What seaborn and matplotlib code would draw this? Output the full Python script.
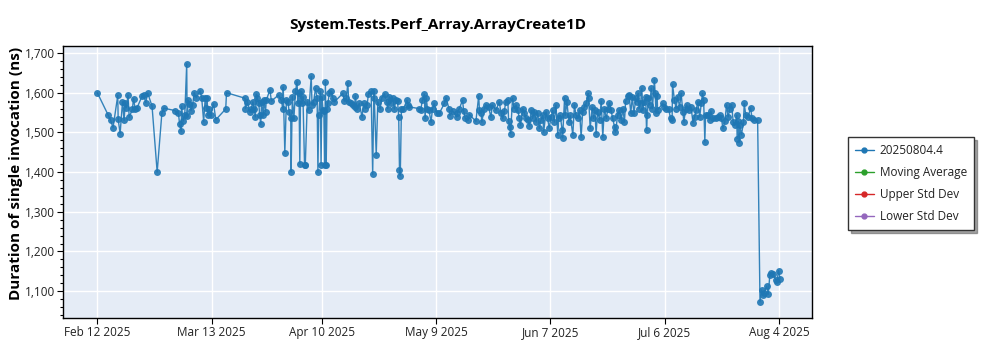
import matplotlib
matplotlib.use("Agg")
import matplotlib.pyplot as plt
import matplotlib.dates as mdates
from matplotlib.lines import Line2D
from matplotlib.ticker import MultipleLocator, FuncFormatter
import seaborn as sns
import pandas as pd

# ---- data (days since 2025-02-12, duration ns) ----
series_name = "20250804.4"
legend_labels = ["20250804.4", "Moving Average", "Upper Std Dev", "Lower Std Dev"]

days = [
    0, 2.8, 3.4, 4.0, 5.2, 5.3, 5.8, 6.4, 6.8, 7.1, 7.4, 7.8, 8.1, 8.9, 9.2, 9.6, 10.1,
    11.4, 11.8, 12.3, 12.8, 13.9, 15.2, 16.4, 16.9, 19.7, 20.6, 20.9, 21.3, 21.4, 21.8,
    22.2, 22.7, 22.8, 23.1, 23.3, 23.8, 24.2, 24.6, 25.1, 26.1, 26.5, 27.0, 27.4, 27.7,
    27.9, 28.0, 28.4, 28.8, 29.5, 30.1, 32.6, 32.8, 37.5, 37.6, 38.1,
    38.7, 39.1, 39.5, 39.8, 40.1, 40.4, 40.6, 41.0, 41.2, 41.5, 41.7, 42.1, 42.3, 42.7,
    42.9, 43.8, 44.2, 46.0, 46.7, 47.1, 47.2, 47.6, 48.0, 48.4, 48.7, 49.1, 49.2, 49.5,
    49.9, 50.3, 50.7, 50.9, 51.2, 51.4, 51.6, 51.9, 52.2, 52.6, 52.8, 53.3, 53.7, 54.3,
    54.5, 54.9, 55.4, 55.8, 56.0, 56.2, 56.6, 56.8, 57.0, 57.3, 57.5, 57.7, 57.9, 58.1,
    58.3, 58.5, 58.9, 59.4, 59.8, 60.2, 62.3, 62.7, 63.2, 63.6, 63.8, 64.3, 64.8, 65.3,
    65.5, 65.9, 66.5, 67.2, 67.6, 68.0, 68.5, 68.8, 69.5, 69.9, 70.2, 70.3, 70.8, 71.2,
    71.8, 72.2, 72.9, 73.5, 73.7, 74.1, 74.5, 75.0, 75.4, 75.8, 76.2, 76.5, 76.7, 76.9,
    77.2, 77.7, 78.6, 78.9, 79.2, 81.7, 82.1, 82.5, 83.0, 83.2, 83.5, 83.8, 84.2, 84.7,
    85.1, 85.5, 86.2,
    86.8, 88.1, 88.5, 89.3, 89.5, 90.2, 91.2, 91.4, 91.9, 92.7, 93.0, 93.4, 94.2, 94.4,
    96.1, 96.8, 97.0, 97.4, 97.6, 98.2, 98.6, 99.3, 99.9, 100.3, 101.2, 102.0, 102.5,
    102.9, 103.3, 103.7, 104.2, 104.4, 104.7, 104.9, 105.4, 105.8, 106.3, 106.7, 107.1,
    107.4, 108.0, 108.4, 108.8, 109.2, 109.7, 110.1, 110.5, 110.9, 111.4, 111.8, 112.2,
    112.6, 113.1, 113.3, 113.9, 114.3, 114.7, 115.2, 115.6, 116.0, 116.4, 116.9, 117.1,
    117.5, 118.0, 118.1, 118.6, 118.8, 119.2, 119.7, 120.0, 120.7, 121.1, 121.5, 122.0,
    122.4, 122.8, 123.2, 123.6, 124.1, 124.6, 124.7, 125.1, 125.6, 125.9, 126.3, 126.6,
    127.0, 127.5, 127.9, 128.3, 128.7, 129.2, 129.6, 130.0, 130.4, 130.8, 131.3, 131.5,
    132.1, 132.5, 133.0, 133.4, 133.8, 134.1, 134.7,
    135.0, 135.4, 135.8, 136.2, 136.7, 137.1, 137.3, 137.5, 137.9, 138.2, 138.5, 138.8,
    139.2, 139.4, 139.6, 139.9, 140.2, 140.6, 140.9, 141.4, 141.6, 141.8, 142.1, 142.2,
    143.5, 143.9, 144.3, 145.0, 145.5, 145.9, 146.0, 146.5, 146.9, 147.3, 147.8, 148.2,
    148.6, 148.9, 149.3, 149.6, 150.1, 150.7, 151.2, 151.6, 152.0, 152.4, 152.9, 153.3,
    153.6, 153.9, 154.2, 154.4, 155.0, 155.4, 155.7, 156.3, 157.0, 157.6, 158.0, 158.4,
    158.8, 159.3, 159.7, 160.1, 160.6, 161.0, 161.4, 161.8, 162.3, 162.4, 162.7, 162.9,
    163.1, 163.5, 164.0, 164.2, 164.6, 165.2, 165.8, 166.2, 166.7, 167.6,
    168.2, 168.6, 168.9, 169.2, 169.9, 170.3, 170.7, 171.1, 171.6, 172.2, 172.5, 172.9, 173.3,
]

values = [
    1600, 1543, 1530, 1512, 1593, 1533, 1497, 1577, 1530, 1573, 1562, 1594, 1538, 1558, 1585, 1560, 1562,
    1592, 1593, 1575, 1599, 1566, 1400, 1549, 1561, 1555, 1548, 1520, 1503, 1566, 1528,
    1543, 1673, 1542, 1581, 1572, 1555, 1569, 1600, 1587, 1605, 1587, 1527, 1587, 1562,
    1587, 1543, 1558, 1543, 1572, 1532, 1559, 1600, 1586, 1560, 1577,
    1552, 1560, 1577, 1560, 1539, 1596, 1586, 1573, 1545, 1520, 1577, 1543, 1581, 1552,
    1581, 1607, 1579, 1594, 1581, 1559, 1614, 1448, 1581, 1577, 1552, 1535, 1401, 1590,
    1535, 1603, 1628, 1573, 1598, 1421, 1603, 1573, 1590, 1419, 1419, 1577, 1556, 1641,
    1569, 1577, 1611, 1586, 1400, 1543, 1604, 1417, 1590, 1556, 1554, 1417, 1628, 1417,
    1560, 1573, 1598, 1603, 1586, 1577, 1598, 1579, 1586, 1625, 1577, 1573, 1569, 1564,
    1592, 1560, 1573, 1539, 1573, 1560, 1569, 1596, 1603, 1394, 1603, 1586, 1444, 1577,
    1559, 1587, 1597, 1577, 1560, 1590, 1573, 1587, 1559, 1581, 1579, 1540, 1406, 1391,
    1560, 1559, 1581, 1569, 1564, 1560, 1556, 1581, 1596, 1535, 1587, 1560, 1556, 1526,
    1560, 1573, 1548,
    1548, 1573, 1587, 1559, 1542, 1554, 1539, 1550, 1560, 1581, 1554, 1535, 1531, 1545,
    1528, 1592, 1556, 1548, 1526, 1560, 1570, 1564, 1539, 1569, 1556, 1577, 1548,
    1535, 1554, 1577, 1581, 1528, 1514, 1497, 1586, 1560, 1569, 1556, 1537,
    1518, 1560, 1548, 1535, 1531, 1516, 1556, 1535, 1552, 1526, 1548, 1510,
    1531, 1543, 1501, 1552, 1535, 1511, 1539, 1556, 1526, 1569, 1493, 1535,
    1543, 1505, 1486, 1587, 1543, 1577, 1526, 1543, 1494, 1569, 1543, 1535,
    1556, 1488, 1552, 1564, 1573, 1598, 1587, 1510, 1564, 1535, 1556, 1497,
    1552, 1531, 1579, 1488, 1560, 1535, 1560, 1575, 1556, 1535, 1514, 1501,
    1543, 1556, 1531, 1560, 1526, 1579, 1592,
    1594, 1548, 1590, 1548, 1586, 1577, 1598, 1560, 1573, 1611, 1556, 1577,
    1590, 1505, 1545, 1586, 1569, 1611, 1560, 1632, 1598, 1548, 1592, 1556,
    1573, 1564, 1560, 1560, 1535, 1531, 1621, 1581, 1560, 1590, 1564, 1598,
    1552, 1526, 1560, 1569, 1556, 1564, 1524, 1539, 1556, 1577, 1539, 1573,
    1598, 1581, 1476, 1545, 1545, 1531, 1554, 1535, 1535, 1539, 1543, 1535,
    1510, 1528, 1569, 1539, 1560, 1570, 1526, 1518, 1543, 1484, 1528, 1474,
    1518, 1494, 1525, 1573, 1543, 1539, 1562, 1535, 1531, 1531,
    1073, 1103, 1090, 1095, 1113, 1092, 1141, 1145, 1143, 1128, 1124, 1152, 1131,
]

start_date = "2025-02-12"
tick_dates = ["2025-02-12", "2025-03-13", "2025-04-10", "2025-05-09",
              "2025-06-07", "2025-07-06", "2025-08-04"]
y_ticks = [1100, 1200, 1300, 1400, 1500, 1600, 1700]

# ---- build frame ----
base = pd.Timestamp(start_date)
df = pd.DataFrame({
    "date": base + pd.to_timedelta(days, unit="D"),
    "value": values,
})

sns.set_theme(style="darkgrid")
plt.rcParams["font.family"] = ["Open Sans", "DejaVu Sans"]

fig = plt.figure(figsize=(10, 3.5), dpi=100)
ax = fig.add_axes([0.063, 0.091, 0.749, 0.778])
ax.set_facecolor("#E5ECF6")

colors = ["#1f77b4", "#2ca02c", "#d62728", "#9467bd"]

sns.lineplot(data=df, x="date", y="value", ax=ax, color=colors[0],
             marker="o", markersize=5.0, markeredgewidth=0, linewidth=1.0,
             estimator=None, sort=True, legend=False, alpha=0.9)

ax.grid(True, color="white", linewidth=1.0)
for s in ax.spines.values():
    s.set_visible(True)
    s.set_color("black")
    s.set_linewidth(1.0)

ax.set_xlim(base - pd.Timedelta(days=8.7), base + pd.Timedelta(days=181.4))
ax.set_ylim(1032, 1718)
ax.set_xticks([pd.Timestamp(d) for d in tick_dates])
ax.xaxis.set_major_formatter(FuncFormatter(
    lambda v, p: (lambda d: f"{d.strftime('%b')} {d.day} {d.year}")(mdates.num2date(v))))
ax.set_yticks(y_ticks)
ax.yaxis.set_minor_locator(MultipleLocator(20))
ax.yaxis.set_major_formatter(FuncFormatter(lambda v, p: f"{int(v):,}"))
ax.tick_params(axis="both", which="major", length=4, width=0.8, color="black",
               labelsize=8.5, labelcolor="#222222", bottom=True, left=True, pad=2)
ax.tick_params(axis="y", which="minor", length=2.5, width=0.8, color="black", left=True)
ax.grid(False, which="minor")

ax.set_xlabel("")
ax.set_ylabel("Duration of single invocation (ns)", fontsize=11,
              fontweight="bold", color="black")
ax.yaxis.set_label_coords(-0.053, 0.53)
ax.set_title("System.Tests.Perf_Array.ArrayCreate1D", fontsize=11,
             fontweight="bold", color="black", pad=12)

handles = [Line2D([], [], color=c, marker="o", markersize=3.5, linewidth=1.0)
           for c in colors]
leg = fig.legend(handles, legend_labels, loc="center left",
                 bbox_to_anchor=(0.842, 0.476), frameon=True, fancybox=False,
                 shadow=True, fontsize=8.5, handlelength=1.6, labelspacing=0.75,
                 borderpad=0.6, handletextpad=0.5)
leg.get_frame().set_edgecolor("#333333")
leg.get_frame().set_facecolor("white")
leg.get_frame().set_linewidth(1.0)
for t in leg.get_texts():
    t.set_color("#222222")

fig.savefig("out.png", dpi=100, facecolor="white")
